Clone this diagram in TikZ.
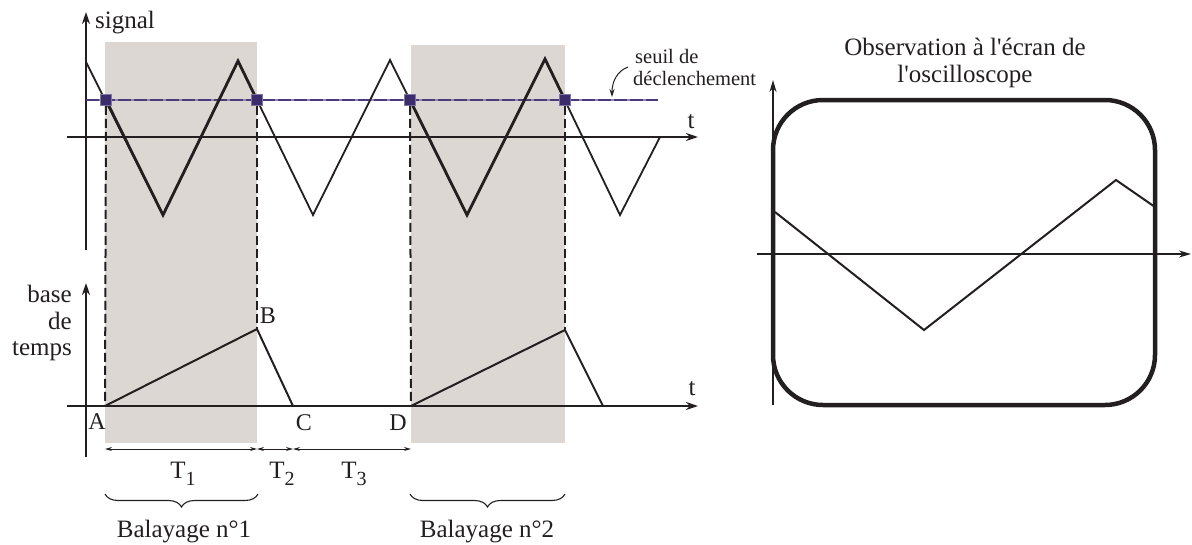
\documentclass[tikz,border=0pt]{standalone}
\usepackage{fontspec}
\setmainfont{Liberation Serif}[Ligatures=TeXOff]
\usetikzlibrary{arrows.meta,decorations.pathreplacing}
\definecolor{shadegray}{HTML}{DCD7D3}
\definecolor{thr}{HTML}{4A3A7A}
\definecolor{sq}{HTML}{3B2C6B}
\definecolor{ink}{HTML}{231F20}
\tikzset{
  axis/.style={draw=ink, line width=2.1pt, -{Stealth[length=12pt,width=8pt]}},
  thin wave/.style={draw=ink, line width=1.8pt, line join=miter},
  thick wave/.style={draw=ink, line width=2.8pt, line join=miter},
  ramp/.style={draw=ink, line width=2pt, line join=miter},
  dashline/.style={draw=ink, line width=2pt, dash pattern=on 9pt off 4pt},
  dim/.style={draw=ink, line width=0.9pt, {Stealth[length=7pt,width=4pt]}-{Stealth[length=7pt,width=4pt]}},
  lbl/.style={inner sep=0pt, text=ink, font=\rmfamily\fontsize{25}{29}\selectfont},
  slbl/.style={inner sep=0pt, text=ink, font=\rmfamily\fontsize{20.5}{24}\selectfont},
  marker/.style={fill=sq, minimum size=11pt, inner sep=0pt, draw=thr!70, line width=0.5pt},
  bracestyle/.style={draw=ink, line width=1.1pt, decorate, decoration={brace, mirror, amplitude=13pt}},
}
\begin{document}
\begin{tikzpicture}[x=1pt, y=-1pt]
\useasboundingbox (0,0) rectangle (1192,544);
% shaded sweep regions
\fill[shadegray] (105,42) rectangle (257,443);
\fill[shadegray] (411,45) rectangle (565,443);
% axes (left)
\draw[axis] (86,250) -- (86,12);
\draw[axis] (67,137) -- (698,137);
\draw[axis] (86,457) -- (86,283);
\draw[axis] (67,406) -- (698,406);
% threshold line
\draw[thr!60, line width=1.4pt] (86,100) -- (658,100);
\draw[thr, line width=1.4pt, dash pattern=on 13pt off 3pt] (86,100) -- (658,100);
% signal wave
\draw[thin wave] (86,62) -- (163,215) -- (238,61) -- (313,215) -- (390,60) -- (467,215) -- (545,59) -- (620,215) -- (660,137);
\draw[thick wave] (106,100) -- (163,215) -- (238,61) -- (257,100);
\draw[thick wave] (410,100) -- (467,215) -- (545,59) -- (565,100);
% base de temps
\coordinate (A) at (105,406);
\coordinate (B) at (257,329);
\coordinate (C) at (293,406);
\coordinate (D) at (411,406);
\coordinate (E) at (565,330);
\coordinate (F) at (603,406);
\draw[ramp] (A) -- (B) -- (C);
\draw[ramp] (D) -- (E) -- (F);
% trigger squares
\node[marker] (s1) at (106,100) {};
\node[marker] (s2) at (257,100) {};
\node[marker] (s3) at (410,100) {};
\node[marker] (s4) at (565,100) {};
% dashed verticals
\draw[dashline] (s1.south) -- (A);
\draw[dashline] (s2.south) -- (B);
\draw[dashline] (s3.south) -- (D);
\draw[dashline] (s4.south) -- (E);
% labels
\node[lbl, anchor=base west] (sig) at (95,28) {signal};
\node[lbl, anchor=base] (t1) at (691,128) {t};
\node[lbl, anchor=base] (t2) at (692,395) {t};
\node[slbl, anchor=base west] (seuil) at (635,63) {seuil de};
\node[slbl, anchor=base west] (decl) at (633,85) {déclenchement};
\draw[ink, line width=1pt, -{Stealth[length=8pt,width=5pt]}] (628,67) .. controls (617,71) and (612,82) .. (612,97);
\node[lbl, anchor=base east] (bt1) at (72,302) {base};
\node[lbl, anchor=base east] (bt2) at (72,329) {de};
\node[lbl, anchor=base east] (bt3) at (72,355) {temps};
\node[lbl, anchor=base, font=\rmfamily\fontsize{24}{28}\selectfont] (la) at (97,429) {A};
\node[lbl, anchor=base, font=\rmfamily\fontsize{24}{28}\selectfont] (lb) at (268,323) {B};
\node[lbl, anchor=base, font=\rmfamily\fontsize{24}{28}\selectfont] (lc) at (304,430) {C};
\node[lbl, anchor=base, font=\rmfamily\fontsize{24}{28}\selectfont] (ld) at (398,430) {D};
% durations
\coordinate (d1) at (105,449);
\coordinate (d2) at (257,449);
\coordinate (d3) at (293,449);
\coordinate (d4) at (411,449);
\draw[dim] (d1) -- (d2);
\draw[dim] (d2) -- (d3);
\draw[dim] (d3) -- (d4);
\node[lbl, anchor=base] (T1) at (183,478) {T\raisebox{-7pt}{\fontsize{20}{20}\selectfont 1}};
\node[lbl, anchor=base] (T2) at (282,478) {T\raisebox{-7pt}{\fontsize{20}{20}\selectfont 2}};
\node[lbl, anchor=base] (T3) at (354,478) {T\raisebox{-7pt}{\fontsize{20}{20}\selectfont 3}};
% braces
\draw[bracestyle] (105,494) -- (258,494);
\draw[bracestyle] (410,494) -- (565,494);
\node[lbl, anchor=base] (bal1) at (184,537) {Balayage n°1};
\node[lbl, anchor=base] (bal2) at (487,537) {Balayage n°2};
% oscilloscope screen
\node[lbl, anchor=base] (obs1) at (965,55) {Observation à l'écran de};
\node[lbl, anchor=base] (obs2) at (965,82) {l'oscilloscope};
\draw[ink, line width=4.5pt, rounded corners=50pt] (773,100) rectangle (1155,405);
\draw[ink, line width=1.8pt, -{Stealth[length=12pt,width=7pt]}] (773,405) -- (773,80);
\draw[ink, line width=1.8pt, -{Stealth[length=12pt,width=7pt]}] (757,254) -- (1191,254);
\draw[ink, line width=2pt, line join=miter] (775,212) -- (924,330) -- (1116,180) -- (1155,207);
\end{tikzpicture}
\end{document}
